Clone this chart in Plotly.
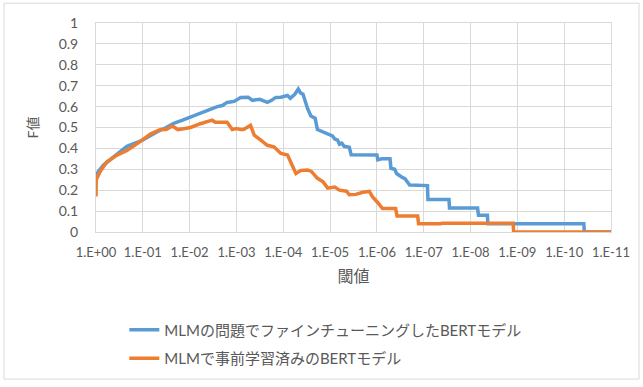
import numpy as np
import plotly.graph_objects as go

# Threshold exponents (threshold = 10^-exp) and F values per model
blue_exp = [0, 0.05, 0.16, 0.38, 0.66, 1.0, 1.15, 1.31, 1.5, 1.66, 1.85, 2.02, 2.23, 2.4,
            2.59, 2.7, 2.80, 2.95, 3.09, 3.25, 3.34, 3.5, 3.66, 3.75, 3.84, 3.95, 4.09,
            4.15, 4.25, 4.32, 4.37, 4.42, 4.52, 4.59, 4.68, 4.73, 4.85, 4.98, 5.05, 5.1,
            5.16, 5.2, 5.25, 5.3, 5.41, 5.45, 6.0, 6.02, 6.1, 6.28, 6.3, 6.38, 6.42, 6.55,
            6.6, 6.7, 7.08, 7.09, 7.54, 7.55, 8.15, 8.17, 8.36, 8.37, 10.42, 10.43, 11.0]
blue_f = [0.27, 0.29, 0.32, 0.36, 0.41, 0.44, 0.46, 0.48, 0.50, 0.52, 0.535, 0.55, 0.57, 0.585,
          0.60, 0.605, 0.62, 0.625, 0.644, 0.645, 0.63, 0.635, 0.62, 0.63, 0.644, 0.645, 0.653,
          0.64, 0.66, 0.684, 0.665, 0.66, 0.59, 0.555, 0.545, 0.49, 0.48, 0.465, 0.46, 0.445,
          0.44, 0.42, 0.425, 0.41, 0.405, 0.37, 0.368, 0.345, 0.35, 0.35, 0.305, 0.30, 0.28, 0.26,
          0.255, 0.225, 0.222, 0.155, 0.155, 0.115, 0.115, 0.08, 0.08, 0.04, 0.04, 0.0, 0.0]

orange_exp = [0, 0.005, 0.09, 0.235, 0.45, 0.66, 0.88, 1.02, 1.17, 1.38, 1.5, 1.63, 1.75, 1.9,
              2.02, 2.23, 2.48, 2.55, 2.80, 2.91, 3.0, 3.09, 3.15, 3.30, 3.38, 3.52, 3.66, 3.8,
              3.95, 4.09, 4.16, 4.27, 4.38, 4.52, 4.6, 4.73, 4.85, 4.95, 5.1, 5.2, 5.35, 5.41,
              5.55, 5.7, 5.84, 5.9, 6.02, 6.12, 6.40, 6.43, 6.87, 6.89, 7.35, 7.4, 8.91, 8.92, 11.0]
orange_f = [0.17, 0.25, 0.29, 0.336, 0.368, 0.39, 0.423, 0.447, 0.47, 0.49, 0.49, 0.507, 0.49, 0.495,
            0.50, 0.518, 0.535, 0.525, 0.525, 0.49, 0.495, 0.49, 0.49, 0.51, 0.463, 0.44, 0.415, 0.408,
            0.376, 0.368, 0.336, 0.28, 0.295, 0.297, 0.29, 0.257, 0.24, 0.21, 0.215, 0.20, 0.195, 0.178,
            0.18, 0.19, 0.194, 0.17, 0.14, 0.112, 0.112, 0.076, 0.076, 0.04, 0.04, 0.042, 0.042, 0.0, 0.0]

tick_exp = list(range(0, 12))
tick_text = ["1.E+00"] + [f"1.E-{k:02d}" for k in range(1, 12)]

series_names = ["MLMの問題でファインチューニングしたBERTモデル", "MLMで事前学習済みのBERTモデル"]
series_colors = ["#5B9BD5", "#ED7D31"]

FONT = "Lato, 'Noto Sans CJK JP', sans-serif"
GRID = "#d9d9d9"
TXT = "#595959"

fig = go.Figure()
for i, (ex, fv) in enumerate([(blue_exp, blue_f), (orange_exp, orange_f)]):
    fig.add_trace(go.Scatter(
        x=np.power(10.0, -np.array(ex)), y=fv, mode="lines",
        name=series_names[i], legendgroup=f"g{i}",
        line=dict(color=series_colors[i], width=3.5),
    ))

fig.update_layout(
    width=643, height=387,
    margin=dict(l=96, r=32, t=23, b=153),
    paper_bgcolor="white", plot_bgcolor="white",
    font=dict(family=FONT, color=TXT, size=12),
    showlegend=True,
    legend=dict(x=0.055, y=-0.39, xanchor="left", yanchor="top",
                font=dict(size=15, color=TXT), tracegroupgap=6,
                itemwidth=30, bgcolor="rgba(0,0,0,0)"),
    xaxis=dict(type="log", range=[0, -11],
               tickvals=[10.0 ** -k for k in tick_exp], ticktext=tick_text,
               showgrid=True, gridcolor=GRID, gridwidth=1,
               showline=True, linecolor=GRID, mirror=True,
               ticks="", ticklabelstandoff=8, tickfont=dict(size=13, color=TXT),
               title=dict(text="閾値", font=dict(size=16, color=TXT), standoff=12)),
    yaxis=dict(range=[0, 1], dtick=0.1, tickformat="~g",
               showgrid=True, gridcolor=GRID, gridwidth=1,
               showline=True, linecolor=GRID, mirror=True, zeroline=False,
               ticks="", ticklabelstandoff=14, tickfont=dict(size=14, color=TXT),
               title=dict(text="F値", font=dict(size=14, color=TXT), standoff=16)),
    shapes=[dict(type="rect", xref="paper", yref="paper",
                 x0=(4 - 96) / 515, x1=(639 - 96) / 515,
                 y0=(234 - 382.5) / 211, y1=(234 - 3) / 211,
                 line=dict(color=GRID, width=1), fillcolor="rgba(0,0,0,0)", layer="below")],
)

fig.write_html("out.html")
